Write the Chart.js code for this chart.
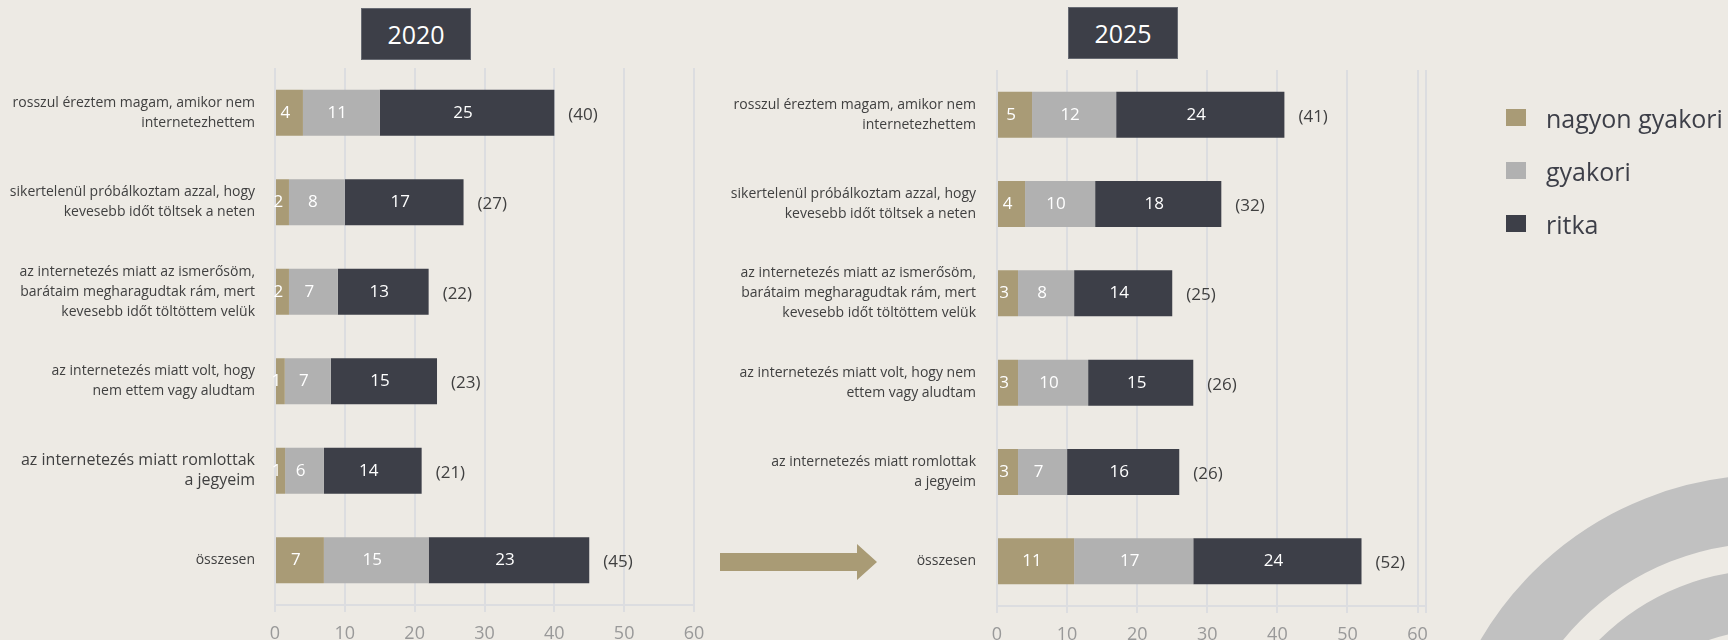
<!DOCTYPE html>
<html>
<head>
<meta charset="utf-8">
<script src="https://cdn.jsdelivr.net/npm/chart.js@4"></script>
<style>
  html, body { margin: 0; padding: 0; }
  body { width: 1728px; height: 640px; background: #edeae4; overflow: hidden; position: relative; font-family: "Open Sans", sans-serif; }
  .box { position: absolute; }
  .year { position: absolute; width: 108px; height: 50px; background: #3d3f48; border: 1px solid #676a72; color: #fff;
          font-size: 25px; display: flex; align-items: center; justify-content: center; }
  .ring { position: absolute; border-radius: 50%; box-sizing: border-box; border-style: solid; border-color: #c1c1c1; }
  #legend { position: absolute; left: 1506px; top: 91px; }
  #legend div { display: flex; align-items: center; height: 53px; font-size: 25px; color: #3d3f48; }
  #legend span { display: inline-block; width: 20px; height: 17px; margin-right: 20px; }
  svg { position: absolute; left: 0; top: 0; }
</style>
</head>
<body>
<div class="ring" style="left:1435px; top:475px; width:666px; height:666px; border-width:68px;"></div>
<div class="ring" style="left:1530px; top:570px; width:475px; height:475px; border-width:60px;"></div>

<div class="year" style="left:361px; top:8px;">2020</div>
<div class="year" style="left:1068px; top:7px;">2025</div>

<div class="box" style="left:0; top:0; width:710px; height:640px;"><canvas id="c2020"></canvas></div>
<div class="box" style="left:720px; top:0; width:722px; height:640px;"><canvas id="c2025"></canvas></div>

<svg width="1728" height="640">
  <polygon points="720,553 857,553 857,544 877,562 857,580 857,571 720,571" fill="#a99b75" />
</svg>

<div id="legend"></div>

<script>
const seriesNames = ['nagyon gyakori', 'gyakori', 'ritka'];
const seriesColors = ['#a99b76', '#b1b1b1', '#3d3f48'];

const labels2020 = [
  ['rosszul éreztem magam, amikor nem', 'internetezhettem'],
  ['sikertelenül próbálkoztam azzal, hogy', 'kevesebb időt töltsek a neten'],
  ['az internetezés miatt az ismerősöm,', 'barátaim megharagudtak rám, mert', 'kevesebb időt töltöttem velük'],
  ['az internetezés miatt volt, hogy', 'nem ettem vagy aludtam'],
  ['az internetezés miatt romlottak', 'a jegyeim'],
  'összesen'
];
const labels2025 = [
  ['rosszul éreztem magam, amikor nem', 'internetezhettem'],
  ['sikertelenül próbálkoztam azzal, hogy', 'kevesebb időt töltsek a neten'],
  ['az internetezés miatt az ismerősöm,', 'barátaim megharagudtak rám, mert', 'kevesebb időt töltöttem velük'],
  ['az internetezés miatt volt, hogy nem', 'ettem vagy aludtam'],
  ['az internetezés miatt romlottak', 'a jegyeim'],
  'összesen'
];

const veryOften2020 = [4, 2, 2, 1.4, 1.45, 7];
const often2020 = [11, 8, 7, 6.6, 5.55, 15];
const rarely2020 = [25, 17, 13, 15.2, 14, 23];
const totals2020 = [40, 27, 22, 23, 21, 45];

const veryOften2025 = [5, 4, 3, 3, 3, 11];
const often2025 = [12, 10, 8, 10, 7, 17];
const rarely2025 = [24, 18, 14, 15, 16, 24];
const totals2025 = [41, 32, 25, 26, 26, 52];

const xTicks = [0, 10, 20, 30, 40, 50, 60];

Chart.defaults.font.family = '"Open Sans", sans-serif';

// value labels inside the bars and the (total) after each bar
const barLabels = {
  id: 'barLabels',
  afterDatasetsDraw(chart, args, opts) {
    const ctx = chart.ctx;
    ctx.save();
    ctx.textBaseline = 'middle';
    ctx.font = '17px "Open Sans"';
    ctx.textAlign = 'center';
    ctx.fillStyle = '#ffffff';
    chart.data.datasets.forEach((ds, i) => {
      chart.getDatasetMeta(i).data.forEach((bar, j) => {
        ctx.fillText(Math.round(ds.data[j]), (bar.x + bar.base) / 2 - 4, bar.y);
      });
    });
    const last = chart.getDatasetMeta(chart.data.datasets.length - 1);
    ctx.textAlign = 'left';
    ctx.fillStyle = '#404040';
    opts.totals.forEach((t, j) => {
      const bar = last.data[j];
      ctx.fillText('(' + t + ')', bar.x + 14, bar.y + 2);
    });
    ctx.restore();
  }
};

function makeChart(id, labels, series, totals, opt) {
  new Chart(document.getElementById(id), {
    type: 'bar',
    data: {
      labels: labels,
      datasets: series.map((d, i) => ({
        label: seriesNames[i],
        data: d,
        backgroundColor: seriesColors[i],
        barPercentage: 0.514,
        categoryPercentage: 1
      }))
    },
    plugins: [barLabels],
    options: {
      indexAxis: 'y',
      responsive: true,
      maintainAspectRatio: false,
      animation: false,
      layout: { padding: { top: opt.top, right: 16, bottom: 0, left: 0 } },
      plugins: {
        legend: { display: false },
        tooltip: { enabled: false },
        barLabels: { totals: totals }
      },
      scales: {
        x: {
          stacked: true,
          min: 0,
          max: opt.max,
          afterBuildTicks: (s) => { s.ticks = opt.ticks.map(v => ({ value: v })); },
          afterFit: (s) => { s.height = opt.xh; s.paddingLeft = 0; s.paddingRight = 0; },
          grid: { color: '#dcdde0', lineWidth: 2, tickLength: 7, drawTicks: true },
          border: { color: '#dcdde0', width: 2 },
          ticks: {
            color: '#999999',
            font: { size: 18 },
            padding: 11,
            maxRotation: 0,
            callback: (v) => (v <= 60 ? v : '')
          }
        },
        y: {
          stacked: true,
          afterFit: (s) => { s.width = opt.yw; s.paddingTop = 0; s.paddingBottom = 0; },
          grid: { display: false, drawTicks: false },
          border: { display: false },
          ticks: {
            autoSkip: false,
            color: '#404040',
            padding: opt.pad,
            font: (c) => (opt.bigIndex === c.index ? { size: 16, lineHeight: 1.27 } : { size: 14, lineHeight: 1.43 })
          }
        }
      }
    }
  });
}

makeChart('c2020', labels2020, [veryOften2020, often2020, rarely2020], totals2020,
  { top: 68, xh: 35, yw: 275, pad: 20, max: 60, ticks: xTicks, bigIndex: 4 });
makeChart('c2025', labels2025, [veryOften2025, often2025, rarely2025], totals2025,
  { top: 70, xh: 34, yw: 277, pad: 21, max: 61.2, ticks: xTicks.concat([61.2]), bigIndex: -1 });

const legend = document.getElementById('legend');
seriesNames.forEach((name, i) => {
  const row = document.createElement('div');
  row.innerHTML = `<span style="background:${seriesColors[i]}"></span>${name}`;
  legend.appendChild(row);
});
</script>
</body>
</html>
